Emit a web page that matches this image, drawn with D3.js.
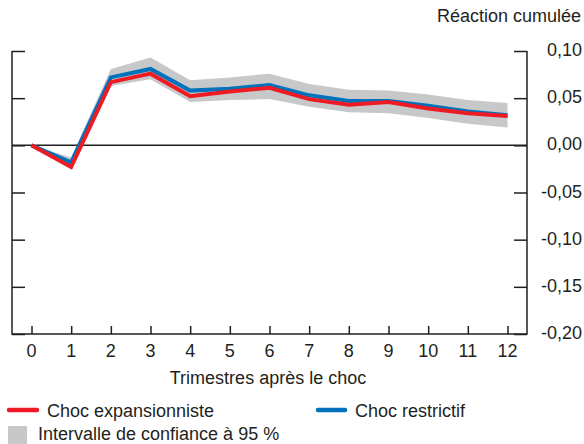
<!DOCTYPE html>
<html>
<head>
<meta charset="utf-8">
<script src="https://cdn.jsdelivr.net/npm/d3@7"></script>
<style>
  body { margin: 0; background: #fff; }
  svg { font-family: "Liberation Sans", Arial, sans-serif; }
</style>
</head>
<body>
<svg id="chart" width="584" height="444"></svg>
<script>
const quarters = [0, 1, 2, 3, 4, 5, 6, 7, 8, 9, 10, 11, 12];
const expansionist = [0, -0.023, 0.067, 0.076, 0.052, 0.057, 0.061, 0.049, 0.043, 0.046, 0.039, 0.034, 0.031];
const restrictive = [0, -0.018, 0.072, 0.081, 0.058, 0.060, 0.064, 0.053, 0.047, 0.047, 0.042, 0.036, 0.032];
const ciUpper = [0, -0.013, 0.081, 0.093, 0.069, 0.072, 0.076, 0.065, 0.059, 0.058, 0.054, 0.048, 0.045];
const ciLower = [0, -0.025, 0.063, 0.070, 0.046, 0.048, 0.049, 0.041, 0.035, 0.034, 0.029, 0.023, 0.019];
const yTicks = [0.10, 0.05, 0, -0.05, -0.10, -0.15, -0.20];

const svg = d3.select("#chart");
const plotLeft = 12, plotRight = 527, plotTop = 51, plotBottom = 334;
const ink = "#231f20";
const fs = 18;
const fmt = v => d3.format(".2f")(v).replace(".", ",").replace("−", "-");

const x = d3.scalePoint()
  .domain(quarters)
  .range([31.5, 507.5]);

const y = d3.scaleLinear()
  .domain([-0.20, 0.10])
  .range([plotBottom, plotTop]);

// confidence band
svg.append("path")
  .datum(quarters)
  .attr("fill", "#c7c8ca")
  .attr("d", d3.area()
    .x(d => x(d))
    .y0((d, i) => y(ciLower[i]))
    .y1((d, i) => y(ciUpper[i])));

// zero line
svg.append("line")
  .attr("x1", plotLeft).attr("x2", plotRight)
  .attr("y1", y(0)).attr("y2", y(0))
  .attr("stroke", ink).attr("stroke-width", 1.5);

// left axis (ticks only, pointing inward)
const leftAxis = svg.append("g")
  .attr("transform", "translate(" + plotLeft + ",0)")
  .call(d3.axisRight(y).tickValues(yTicks).tickSize(13).tickFormat(""));
leftAxis.select(".domain").remove();
leftAxis.selectAll("line").attr("stroke", ink).attr("stroke-width", 1.5);

// right axis
const rightAxis = svg.append("g")
  .attr("transform", "translate(" + plotRight + ",0)")
  .call(d3.axisLeft(y).tickValues(yTicks).tickSize(13).tickFormat(""));
rightAxis.select(".domain").remove();
rightAxis.selectAll("line").attr("stroke", ink).attr("stroke-width", 1.5);

svg.append("g").selectAll("text")
  .data(yTicks)
  .enter()
  .append("text")
  .attr("x", 582)
  .attr("y", d => y(d) + 5)
  .attr("text-anchor", "end")
  .attr("font-size", fs)
  .attr("fill", ink)
  .text(fmt);

// bottom axis
const bottomAxis = svg.append("g")
  .attr("transform", "translate(0," + plotBottom + ")")
  .call(d3.axisTop(x).tickSize(8).tickFormat(""));
bottomAxis.select(".domain").remove();
bottomAxis.selectAll("line").attr("stroke", ink).attr("stroke-width", 1.5);

svg.append("g").selectAll("text")
  .data(quarters)
  .enter()
  .append("text")
  .attr("x", d => x(d))
  .attr("y", 357)
  .attr("text-anchor", "middle")
  .attr("font-size", fs)
  .attr("fill", ink)
  .text(d => d);

// frame: left, bottom, right
svg.append("path")
  .attr("d", "M" + plotLeft + "," + plotTop + "V" + plotBottom + "H" + plotRight + "V" + plotTop)
  .attr("fill", "none")
  .attr("stroke", ink)
  .attr("stroke-width", 1.5);

// series lines
const line = vals => d3.line()
  .x(d => x(d))
  .y((d, i) => y(vals[i]))(quarters);

svg.append("path")
  .attr("d", line(restrictive))
  .attr("fill", "none")
  .attr("stroke", "#0072bc")
  .attr("stroke-width", 4);

svg.append("path")
  .attr("d", line(expansionist))
  .attr("fill", "none")
  .attr("stroke", "#ed1c24")
  .attr("stroke-width", 4);

// titles
svg.append("text")
  .attr("x", 581).attr("y", 22)
  .attr("text-anchor", "end")
  .attr("font-size", fs)
  .attr("fill", ink)
  .text("Réaction cumulée");

svg.append("text")
  .attr("x", 268).attr("y", 384)
  .attr("text-anchor", "middle")
  .attr("font-size", fs)
  .attr("fill", ink)
  .text("Trimestres après le choc");

// legend
const legend = svg.append("g").attr("font-size", fs).attr("fill", ink);
legend.append("line").attr("x1", 9).attr("x2", 37).attr("y1", 410).attr("y2", 410)
  .attr("stroke", "#ed1c24").attr("stroke-width", 4.5).attr("stroke-linecap", "round");
legend.append("text").attr("x", 47).attr("y", 417).text("Choc expansionniste");
legend.append("line").attr("x1", 318).attr("x2", 345).attr("y1", 410).attr("y2", 410)
  .attr("stroke", "#0072bc").attr("stroke-width", 4.5).attr("stroke-linecap", "round");
legend.append("text").attr("x", 355).attr("y", 417).text("Choc restrictif");
legend.append("rect").attr("x", 8).attr("y", 426).attr("width", 19).attr("height", 18)
  .attr("fill", "#c7c8ca");
legend.append("text").attr("x", 38).attr("y", 440).text("Intervalle de confiance à 95 %");
</script>
</body>
</html>
